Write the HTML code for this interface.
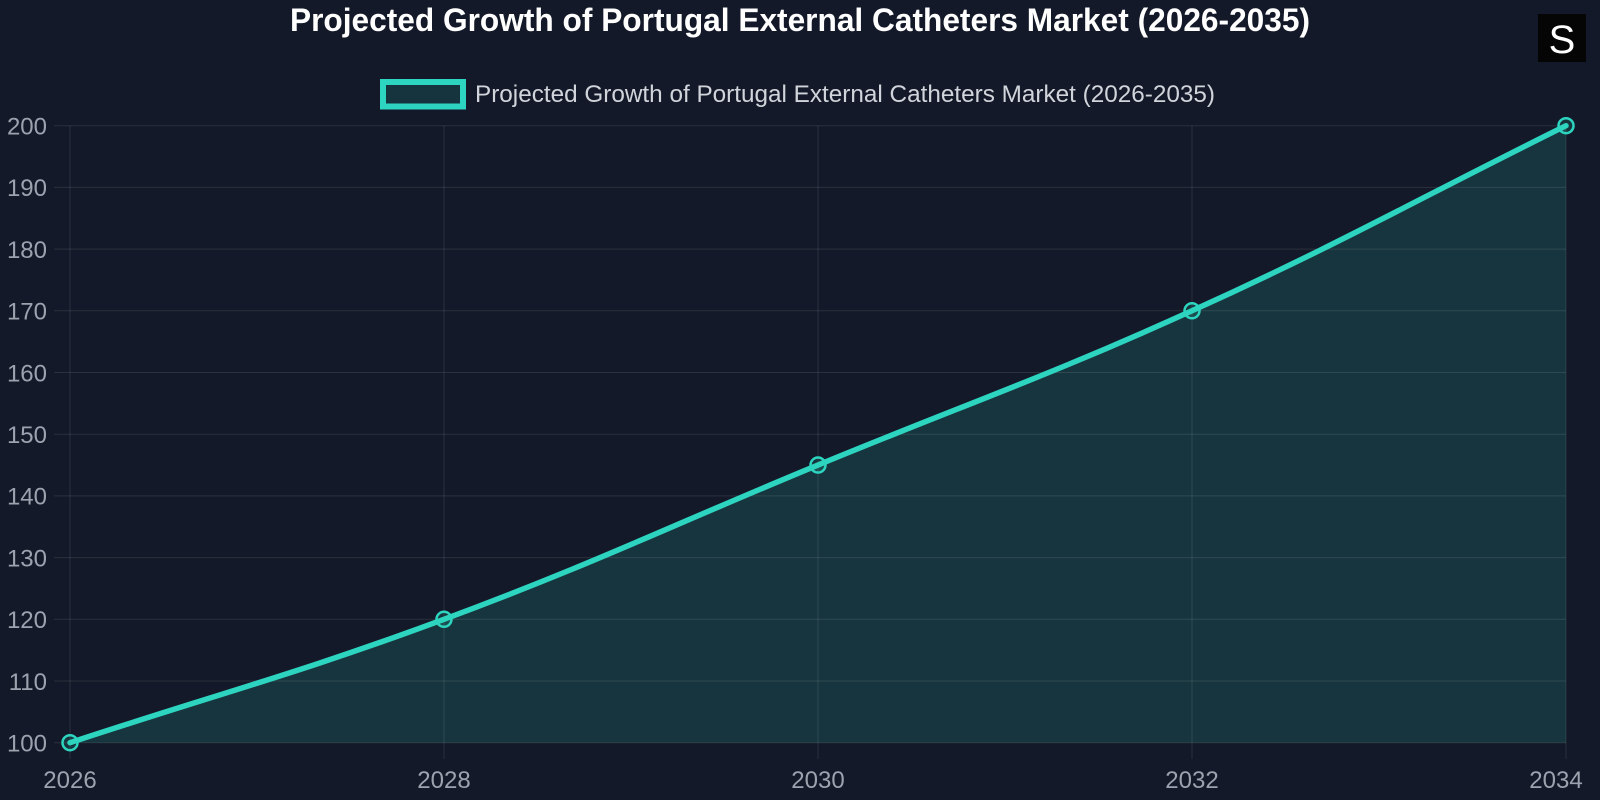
<!DOCTYPE html>
<html>
<head>
<meta charset="utf-8">
<style>
html,body{margin:0;padding:0;background:#111827;}
body{width:1600px;height:800px;overflow:hidden;}
svg{display:block;}
</style>
</head>
<body>
<svg width="1600" height="800" viewBox="0 0 1600 800" xmlns="http://www.w3.org/2000/svg">
<rect width="1600" height="800" fill="#131928"/>

<!-- title -->
<text x="800" y="31" text-anchor="middle" font-family="Liberation Sans, Arial, sans-serif" font-weight="bold" font-size="32" fill="#ffffff" textLength="1020" lengthAdjust="spacingAndGlyphs">Projected Growth of Portugal External Catheters Market (2026-2035)</text>

<!-- logo -->
<rect x="1538" y="14" width="48" height="48" fill="#050505"/>
<text x="1562" y="53" text-anchor="middle" font-family="Liberation Sans, Arial, sans-serif" font-size="40" fill="#ffffff">S</text>

<!-- legend -->
<rect x="383" y="82" width="80" height="24.5" fill="#15343e" stroke="#2dd4bf" stroke-width="6"/>
<text x="475" y="102" font-family="Liberation Sans, Arial, sans-serif" font-size="24" fill="#d1d5db" textLength="740" lengthAdjust="spacingAndGlyphs">Projected Growth of Portugal External Catheters Market (2026-2035)</text>

<!-- fill area -->
<path d="M70,742.7 C219.6,693.34 296.4,674.08 444,619.3 C595.6,563.02 668.4,526.75 818,465.05 C967.6,403.35 1044.7,377.62 1192,310.8 C1343.9,241.88 1416.4,199.74 1566,125.7 L1566,742.7 L70,742.7 Z" fill="rgba(45,212,191,0.15)"/>

<!-- grid -->
<g stroke="rgba(255,255,255,0.1)" stroke-width="1" fill="none">
  <line x1="54" y1="125.7" x2="1566" y2="125.7"/>
  <line x1="54" y1="187.4" x2="1566" y2="187.4"/>
  <line x1="54" y1="249.1" x2="1566" y2="249.1"/>
  <line x1="54" y1="310.8" x2="1566" y2="310.8"/>
  <line x1="54" y1="372.5" x2="1566" y2="372.5"/>
  <line x1="54" y1="434.2" x2="1566" y2="434.2"/>
  <line x1="54" y1="495.9" x2="1566" y2="495.9"/>
  <line x1="54" y1="557.6" x2="1566" y2="557.6"/>
  <line x1="54" y1="619.3" x2="1566" y2="619.3"/>
  <line x1="54" y1="681.0" x2="1566" y2="681.0"/>
  <line x1="54" y1="742.7" x2="1566" y2="742.7"/>
  <line x1="70" y1="125.7" x2="70" y2="759"/>
  <line x1="444" y1="125.7" x2="444" y2="759"/>
  <line x1="818" y1="125.7" x2="818" y2="759"/>
  <line x1="1192" y1="125.7" x2="1192" y2="759"/>
  <line x1="1566" y1="125.7" x2="1566" y2="759"/>
</g>

<!-- y tick labels -->
<g font-family="Liberation Sans, Arial, sans-serif" font-size="24" fill="#9ca3af" text-anchor="end">
  <text x="47" y="134.5">200</text>
  <text x="47" y="196.2">190</text>
  <text x="47" y="257.9">180</text>
  <text x="47" y="319.6">170</text>
  <text x="47" y="381.3">160</text>
  <text x="47" y="443">150</text>
  <text x="47" y="504.7">140</text>
  <text x="47" y="566.4">130</text>
  <text x="47" y="628.1">120</text>
  <text x="47" y="689.8">110</text>
  <text x="47" y="751.5">100</text>
</g>

<!-- x tick labels -->
<g font-family="Liberation Sans, Arial, sans-serif" font-size="24" fill="#9ca3af" text-anchor="middle">
  <text x="70" y="788">2026</text>
  <text x="444" y="788">2028</text>
  <text x="818" y="788">2030</text>
  <text x="1192" y="788">2032</text>
  <text x="1556" y="788">2034</text>
</g>

<!-- line -->
<path d="M70,742.7 C219.6,693.34 296.4,674.08 444,619.3 C595.6,563.02 668.4,526.75 818,465.05 C967.6,403.35 1044.7,377.62 1192,310.8 C1343.9,241.88 1416.4,199.74 1566,125.7" fill="none" stroke="#2dd4bf" stroke-width="5.5" stroke-linejoin="round" stroke-linecap="round"/>

<!-- points -->
<g fill="rgba(45,212,191,0.15)" stroke="#2dd4bf" stroke-width="2.5">
  <circle cx="70" cy="742.7" r="7.5"/>
  <circle cx="444" cy="619.3" r="7.5"/>
  <circle cx="818" cy="465.05" r="7.5"/>
  <circle cx="1192" cy="310.8" r="7.5"/>
  <circle cx="1566" cy="125.7" r="7.5"/>
</g>
</svg>
</body>
</html>
